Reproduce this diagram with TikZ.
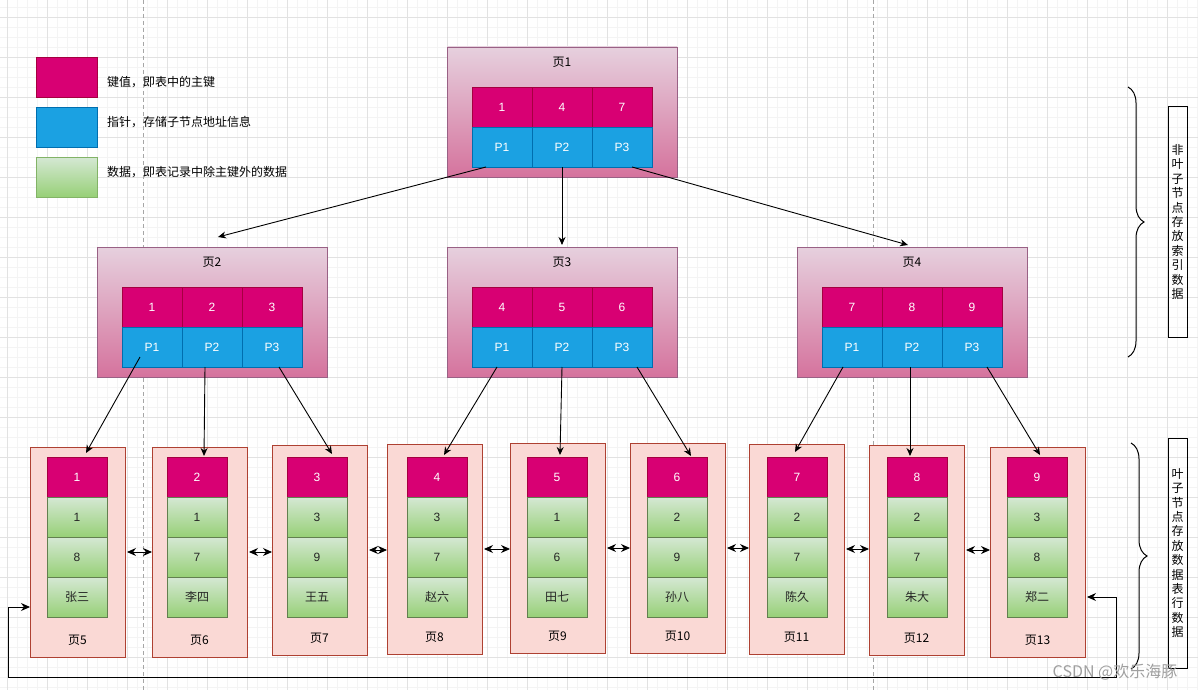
\documentclass[tikz,border=0pt]{standalone}
\usepackage{fontspec}
\setmainfont{Liberation Sans}
\newfontfamily\cjk{Noto Sans CJK SC}
\usetikzlibrary{positioning, arrows.meta, decorations.pathreplacing}

\definecolor{keyred}{HTML}{D80073}
\definecolor{keyline}{HTML}{A50040}
\definecolor{ptrblue}{HTML}{1BA1E2}
\definecolor{ptrline}{HTML}{006EAF}
\definecolor{datatop}{HTML}{D5E8D4}
\definecolor{databot}{HTML}{97D077}
\definecolor{dataline}{HTML}{62804F}
\definecolor{legendgreen}{HTML}{82B366}
\definecolor{pagetop}{HTML}{E6D0DE}
\definecolor{pagebot}{HTML}{D5739D}
\definecolor{pageline}{HTML}{996185}
\definecolor{leafpink}{HTML}{FAD9D5}
\definecolor{leafline}{HTML}{AE4132}
\definecolor{gridminor}{HTML}{F4F4F4}
\definecolor{gridmajor}{HTML}{E2E2E2}

\tikzset{
        >={Stealth[length=8pt,width=7pt]}, % arrow heads like draw.io
        cell/.style={minimum width=60pt, minimum height=40pt, inner sep=0pt,
                outer sep=0pt, line width=0.8pt, font=\fontsize{12}{14}\selectfont},
        key cell/.style={cell, fill=keyred, draw=keyline, text=white}, % key value
        ptr cell/.style={cell, fill=ptrblue, draw=ptrline, text=white}, % pointer
        data cell/.style={cell, top color=datatop, bottom color=databot,
                draw=dataline, text=black!85}, % row data
    }
\tikzset{
      page box/.style={
		minimum width=230pt,
		minimum height=130pt,
		inner sep=0pt, outer sep=0pt,
		top color=pagetop, bottom color=pagebot,
		draw=pageline, line width=0.8pt,
	  },
      leaf box/.style={
		minimum width=95pt,
		minimum height=210pt,
		inner sep=0pt, outer sep=0pt,
		fill=leafpink, draw=leafline, line width=0.8pt,
	  },
  		page label/.style={
    	font=\cjk\fontsize{12}{14}\selectfont, inner sep=0pt,
      },
  		legend text/.style={
    	font=\cjk\fontsize{12}{14}\selectfont, inner sep=0pt, anchor=west,
      },
  		side box/.style={
    	draw, line width=1pt, minimum width=19pt, minimum height=230pt,
    	inner sep=0pt, align=center, font=\cjk\fontsize{12}{14.4}\selectfont,
      },
  		link/.style={->, line width=0.9pt},
  		chain/.style={{Stealth[length=9pt,width=8pt]}-{Stealth[length=9pt,width=8pt]}, line width=0.9pt},
  		side brace/.style={decorate, decoration={brace, amplitude=16pt}, line width=1pt},
  	}

\begin{document}
\begin{tikzpicture}[x=1pt, y=-1pt, node distance=0pt]
    \useasboundingbox (0,0) rectangle (1198,690);
    \fill[white] (0,0) rectangle (1198,690);

    % grid
    \foreach \gx in {7,17,...,1197} \draw[gridminor, line width=0.8pt] (\gx,0) -- (\gx,690);
    \foreach \gy in {7,17,...,687} \draw[gridminor, line width=0.8pt] (0,\gy) -- (1198,\gy);
    \foreach \gx in {7,47,...,1197} \draw[gridmajor, line width=0.8pt] (\gx,0) -- (\gx,690);
    \foreach \gy in {17,57,...,687} \draw[gridmajor, line width=0.8pt] (0,\gy) -- (1198,\gy);
    \draw[gray!70, line width=0.8pt, dash pattern=on 4pt off 3pt] (143,0) -- (143,690);
    \draw[gray!70, line width=0.8pt, dash pattern=on 4pt off 3pt] (873,0) -- (873,690);

    % legend
    \node [cell, minimum width=61pt, fill=keyred, draw=keyline] (lgkey) at (66.5,77) {};
    \node [cell, minimum width=61pt, fill=ptrblue, draw=ptrline] (lgptr) at (66.5,127) {};
    \node [cell, minimum width=61pt, top color=datatop, bottom color=databot, draw=legendgreen] (lgdata) at (66.5,177) {};
    \node [legend text] (lgkeyt) at (107,82) {键值，即表中的主键};
    \node [legend text] (lgptrt) at (107,122) {指针，存储子节点地址信息};
    \node [legend text] (lgdatat) at (107,172) {数据，即表记录中除主键外的数据};

    % non-leaf pages
    \foreach \n/\cx/\cy/\ka/\kb/\kc in {1/562/112/1/4/7, 2/212/312/1/2/3, 3/562/312/4/5/6, 4/912/312/7/8/9} {
        \node [page box] (pg\n) at (\cx,\cy) {};
        \node [page label] (pt\n) at ([yshift=-15pt]pg\n.north) {页\n};
        \node [key cell] (k\n-a) at (\cx-60,\cy-5) {\ka};
        \node [key cell, right=of k\n-a] (k\n-b) {\kb};
        \node [key cell, right=of k\n-b] (k\n-c) {\kc};
        \node [ptr cell, below=of k\n-a] (p\n-a) {P1};
        \node [ptr cell, below=of k\n-b] (p\n-b) {P2};
        \node [ptr cell, below=of k\n-c] (p\n-c) {P3};
    }

    % leaf pages
    \foreach \n/\lx/\ty/\ka/\da/\db/\dc in {5/30/447/1/1/8/张三, 6/152/447/2/1/7/李四, 7/272/445/3/3/9/王五,
            8/387/444/4/3/7/赵六, 9/510/443/5/1/6/田七, 10/630/443/6/2/9/孙八,
            11/749/444/7/2/7/陈久, 12/869/445/8/2/7/朱大, 13/990/447/9/3/8/郑二} {
        \pgfmathsetmacro\kx{77+120*(\n-5)}
        \node [leaf box] (lf\n) at (\lx+47.5,\ty+105) {};
        \node [key cell] (lk\n) at (\kx,477) {\ka};
        \node [data cell, below=of lk\n] (la\n) {\da};
        \node [data cell, below=of la\n] (lb\n) {\db};
        \node [data cell, below=of lb\n] (lc\n) {\cjk\dc};
        \node [page label] (lt\n) at ([yshift=17pt]lf\n.south) {页\n};
    }

    % root to level 2
    \draw [link] ([xshift=-16pt]p1-a.south) -- ([xshift=6pt,yshift=10pt]pg2.north);
    \draw [link] (p1-b.south) -- ([yshift=2pt]pg3.north);
    \draw [link] ([xshift=10pt]p1-c.south) -- ([xshift=-4pt,yshift=2pt]pg4.north);

    % level 2 to leaves
    \draw [link] ([xshift=-12pt,yshift=10pt]p2-a.south) -- ([xshift=9pt,yshift=4pt]lk5.north);
    \draw [link] ([xshift=-7pt]p2-b.south) -- ([xshift=7pt,yshift=1pt]lk6.north);
    \draw [link] ([xshift=7pt]p2-c.south) -- ([xshift=15pt,yshift=3pt]lk7.north);
    \draw [link] ([xshift=-5pt]p3-a.south) -- ([xshift=7pt,yshift=2pt]lk8.north);
    \draw [link] (p3-b.south) -- ([xshift=3pt,yshift=2pt]lk9.north);
    \draw [link] ([xshift=15pt]p3-c.south) -- ([xshift=14pt,yshift=1pt]lk10.north);
    \draw [link] ([xshift=-9pt]p4-a.south) -- ([xshift=-2pt,yshift=5pt]lk11.north);
    \draw [link] ([xshift=-2pt]p4-b.south) -- ([xshift=-7pt,yshift=1pt]lk12.north);
    \draw [link] ([xshift=15pt]p4-c.south) -- ([xshift=3pt,yshift=2pt]lk13.north);

    % leaf chain
    \foreach \a/\b in {5/6, 6/7, 7/8, 8/9, 9/10, 10/11, 11/12, 12/13}
        \draw [chain] ([xshift=2pt]lf\a.east) -- (lf\a.east -| lf\b.west);
    \coordinate (rb) at (1116,677);
    \coordinate (lb) at (8,607);
    \draw [chain] ([xshift=2pt]lf13.east |- lc13) -| (rb) -| (lb) -- (lf5.west |- lb);

    % side notes
    \draw [side brace] (1128,87) -- (1128,357);
    \draw [side brace] (1131,443) -- (1131,669);
    \node [side box] (nonleaf) at (1177.5,222) {非\\叶\\子\\节\\点\\存\\放\\索\\引\\数\\据};
    \node [side box] (leaf) at (1177.5,553) {叶\\子\\节\\点\\存\\放\\数\\据\\表\\行\\数\\据};

    \node [font=\cjk\fontsize{16}{18}\selectfont, text=gray!75, inner sep=0pt] (mark) at (1115,672) {CSDN @欢乐海豚};
  \end{tikzpicture}
\end{document}
